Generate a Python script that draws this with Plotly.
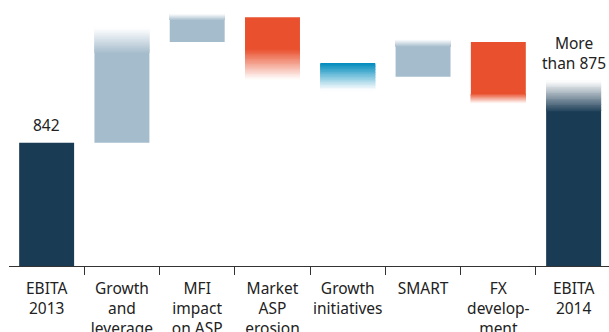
import plotly.graph_objects as go

# ---- data ----
categories = ["EBITA<br>2013", "Growth<br>and<br>leverage", "MFI<br>impact<br>on ASP",
              "Market<br>ASP<br>erosion", "Growth<br>initiatives", "SMART",
              "FX<br>develop-<br>ment", "EBITA<br>2014"]
solid_low = [0, 842, 949.5, 941, 926, 912.5, 894, 0]          # bottom of solid part
solid_high = [842, 938, 973, 976, 926, 945, 949.5, 875]       # top of solid part
fade_end = [842, 964.5, 980, 909, 898, 952.5, 883.5, 908]     # where the fuzzy end fades out
bar_kind = ["total", "up", "up", "down", "up", "up", "down", "total"]
value_labels = {0: "842", 7: "More<br>than 875"}

colors = {"total": (25, 59, 84), "up": (165, 188, 204), "down": (233, 81, 46)}
colors_special = {4: (0, 139, 189)}

def blend(rgb, t):
    # t = 1 full colour, t = 0 white
    r, g, b = (round(255 + (c - 255) * t) for c in rgb)
    return f"rgb({r},{g},{b})"

xs, bases, heights, cols = [], [], [], []
N = 36
for i in range(len(categories)):
    rgb = colors_special.get(i, colors[bar_kind[i]])
    lo, hi, fe = solid_low[i], solid_high[i], fade_end[i]
    if hi > lo:
        xs.append(i); bases.append(lo); heights.append(hi - lo); cols.append(blend(rgb, 1))
    if fe > hi:
        start, step = hi, (fe - hi) / N
    elif fe < lo:
        start, step = lo, (fe - lo) / N
    else:
        continue
    for k in range(N):
        a = start + step * k
        b = start + step * (k + 1)
        t = 1 - (k + 0.5) / N
        xs.append(i); bases.append(min(a, b)); heights.append(abs(b - a) * 1.05)
        cols.append(blend(rgb, t))

fig = go.Figure()
fig.add_trace(go.Bar(x=xs, y=heights, base=bases, width=0.73,
                     marker=dict(color=cols, line=dict(width=0)),
                     hoverinfo="skip", showlegend=False))

for i, txt in value_labels.items():
    top = max(solid_high[i], fade_end[i])
    fig.add_annotation(x=i, y=top, text=txt, showarrow=False, yanchor="bottom",
                       yshift=5, font=dict(family="Noto Sans", size=15.5, color="#222"))

fig.update_layout(
    width=609, height=332, margin=dict(l=9, r=0, t=0, b=66),
    paper_bgcolor="white", plot_bgcolor="white", barmode="overlay",
    xaxis=dict(range=[-0.5, 7.47], tickmode="array", tickvals=list(range(8)),
               ticktext=categories, ticks="", showline=True, linecolor="#333",
               linewidth=1, showgrid=False, zeroline=False, ticklabelstandoff=8,
               automargin=False,
               tickfont=dict(family="Noto Sans", size=15.5, color="#222"),
               minor=dict(tickmode="array", tickvals=[0.5, 1.5, 2.5, 3.5, 4.5, 5.5, 6.5],
                          ticks="outside", ticklen=8, tickcolor="#333", tickwidth=1)),
    yaxis=dict(range=[710.5, 994.3], visible=False, showgrid=False, zeroline=False),
)

fig.write_html("out.html")
